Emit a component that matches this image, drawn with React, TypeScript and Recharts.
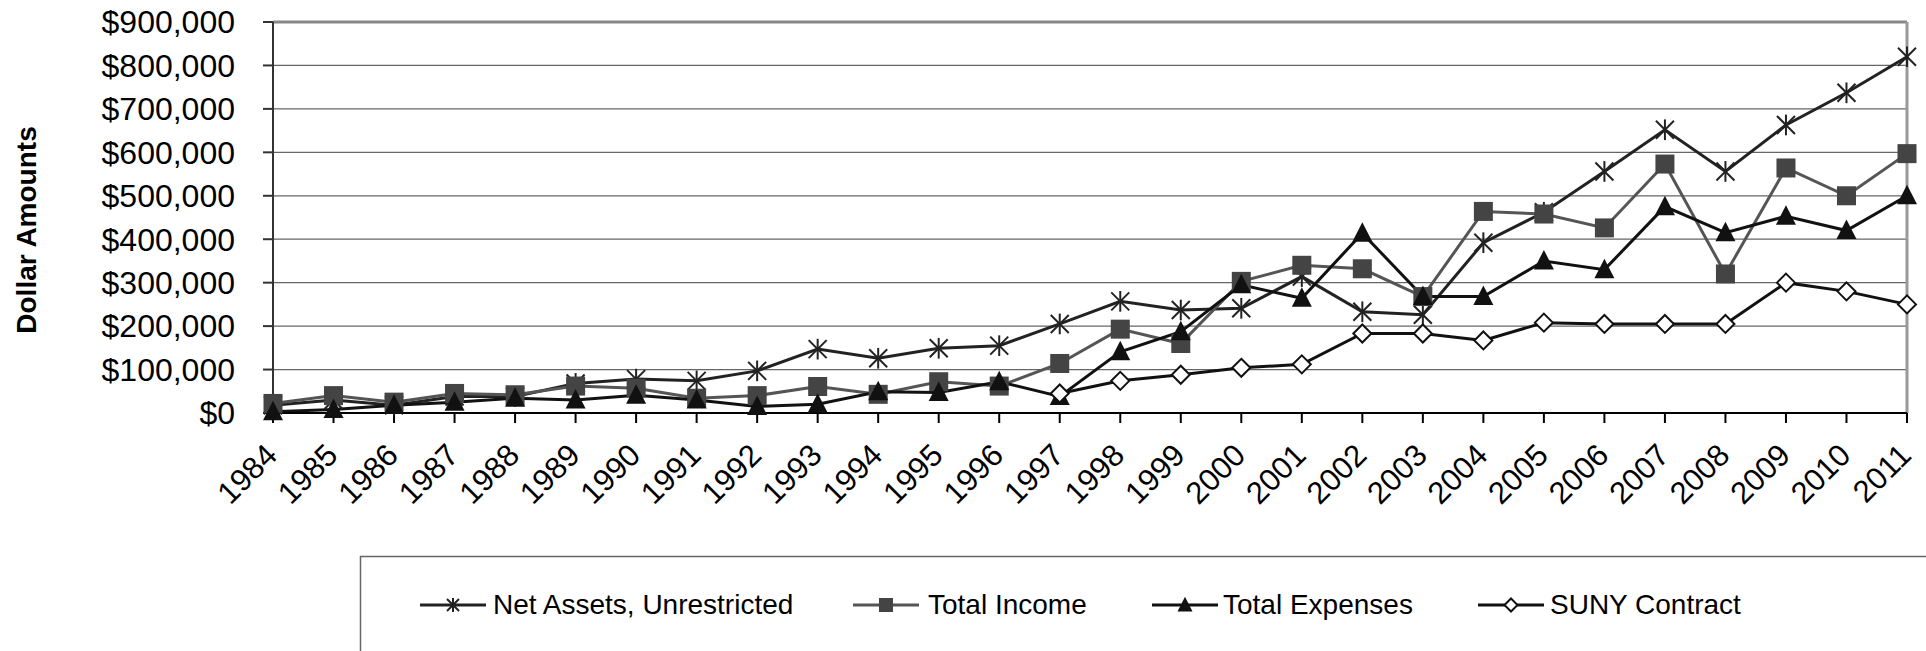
import React from 'react';
import { LineChart, Line, XAxis, YAxis, CartesianGrid, ReferenceLine } from 'recharts';

const years = ['1984','1985','1986','1987','1988','1989','1990','1991','1992','1993','1994','1995','1996','1997','1998','1999','2000','2001','2002','2003','2004','2005','2006','2007','2008','2009','2010','2011'];

const netAssets = [18000, 30000, 18000, 38000, 38000, 68000, 78000, 74000, 97000, 147000, 126000, 149000, 155000, 205000, 257000, 237000, 241000, 314000, 233000, 226000, 392000, 462000, 556000, 652000, 556000, 663000, 737000, 820000];

const totalIncome = [22000, 40000, 25000, 45000, 42000, 62000, 57000, 34000, 40000, 61000, 43000, 72000, 62000, 114000, 193000, 160000, 303000, 340000, 332000, 268000, 464000, 458000, 426000, 573000, 320000, 564000, 500000, 597000];

const totalExpenses = [3000, 8000, 18000, 25000, 34000, 30000, 41000, 30000, 15000, 20000, 49000, 47000, 72000, 38000, 141000, 187000, 295000, 264000, 414000, 268000, 268000, 350000, 330000, 475000, 415000, 453000, 420000, 500000];

const sunyContract: (number | null)[] = [null, null, null, null, null, null, null, null, null, null, null, null, null, 45000, 74000, 88000, 104000, 112000, 183000, 183000, 167000, 208000, 205000, 205000, 205000, 300000, 280000, 250000];

const yTicks = [0, 100000, 200000, 300000, 400000, 500000, 600000, 700000, 800000, 900000];

const seriesNames = ['Net Assets, Unrestricted', 'Total Income', 'Total Expenses', 'SUNY Contract'];

const data = years.map((y, i) => ({
  year: y,
  net: netAssets[i],
  income: totalIncome[i],
  expenses: totalExpenses[i],
  suny: sunyContract[i],
}));

const FONT = 'Liberation Sans, Arial, sans-serif';

const fmt = (v: number) => '$' + v.toLocaleString('en-US');

const Asterisk = ({ cx, cy, s = 9, color = '#222', w = 2 }: any) => (
  <g stroke={color} strokeWidth={w}>
    <line x1={cx - s} y1={cy - s} x2={cx + s} y2={cy + s} />
    <line x1={cx - s} y1={cy + s} x2={cx + s} y2={cy - s} />
    <line x1={cx} y1={cy - s * 1.15} x2={cx} y2={cy + s * 1.15} />
  </g>
);
const Square = ({ cx, cy, s = 9.5, color = '#444' }: any) => (
  <rect x={cx - s} y={cy - s} width={2 * s} height={2 * s} fill={color} />
);
const Triangle = ({ cx, cy, s = 10, color = '#111' }: any) => (
  <polygon points={`${cx},${cy - s * 1.1} ${cx - s},${cy + s * 0.85} ${cx + s},${cy + s * 0.85}`} fill={color} />
);
const Diamond = ({ cx, cy, s = 9, color = '#111', w = 2 }: any) => (
  <polygon points={`${cx},${cy - s} ${cx + s},${cy} ${cx},${cy + s} ${cx - s},${cy}`} fill="#fff" stroke={color} strokeWidth={w} />
);

const mkDot = (Shape: any, key: string) => (props: any) => {
  const { cx, cy, value, index } = props;
  if (value == null || cx == null || cy == null) return <g key={`${key}-${index}`} />;
  return <g key={`${key}-${index}`}><Shape cx={cx} cy={cy} /></g>;
};

const XTick = (props: any) => {
  const { x, y, payload } = props;
  return (
    <g transform={`translate(${x + 6},${y + 32})`}>
      <text transform="rotate(-45)" textAnchor="end" fontSize={31} fontFamily={FONT} fill="#000">
        {payload.value}
      </text>
    </g>
  );
};

const YLabel = () => (
  <text x={26} y={230} transform="rotate(-90 26 230)" textAnchor="middle" dominantBaseline="central"
    fontSize={28} fontWeight="bold" fontFamily={FONT} fill="#000">Dollar Amounts</text>
);

const legendItems = [
  { name: seriesNames[0], lx: 420, tx: 493, color: '#222', Shape: (p: any) => <Asterisk {...p} s={6} /> },
  { name: seriesNames[1], lx: 853, tx: 928, color: '#555', Shape: (p: any) => <Square {...p} s={7} /> },
  { name: seriesNames[2], lx: 1152, tx: 1223, color: '#111', Shape: (p: any) => <Triangle {...p} s={7.5} /> },
  { name: seriesNames[3], lx: 1478, tx: 1550, color: '#111', Shape: (p: any) => <Diamond {...p} s={6.5} /> },
];

export default function App() {
  return (
    <div style={{ position: 'absolute', left: 0, top: 0, width: 1926, height: 651, background: '#fff', overflow: 'hidden' }}>
      <LineChart width={1926} height={651} data={data} margin={{ top: 22, right: 19, left: 0, bottom: 0 }}>
        <CartesianGrid vertical={false} stroke="#666" strokeWidth={1.2} />
        <XAxis dataKey="year" height={238} interval={0} tickSize={10} tick={<XTick />} stroke="#000" strokeWidth={2} />
        <YAxis width={273} domain={[0, 900000]} ticks={yTicks} tickFormatter={fmt} tickSize={10} tickMargin={28}
          stroke="#333" strokeWidth={2} interval={0}
          tick={{ fontSize: 32, fill: '#000', fontFamily: FONT }}
          label={{ content: () => <YLabel /> }} />
        <ReferenceLine y={900000} stroke="#888" strokeWidth={3} />
        <ReferenceLine x="2011" stroke="#999" strokeWidth={3} />
        <Line dataKey="net" name={seriesNames[0]} stroke="#222" strokeWidth={3} isAnimationActive={false} dot={mkDot(Asterisk, 'n')} />
        <Line dataKey="income" name={seriesNames[1]} stroke="#555" strokeWidth={3} isAnimationActive={false} dot={mkDot(Square, 'i')} />
        <Line dataKey="expenses" name={seriesNames[2]} stroke="#111" strokeWidth={3} isAnimationActive={false} dot={mkDot(Triangle, 'e')} />
        <Line dataKey="suny" name={seriesNames[3]} stroke="#111" strokeWidth={3} isAnimationActive={false} dot={mkDot(Diamond, 's')} />
      </LineChart>
      <svg style={{ position: 'absolute', left: 0, top: 0 }} width={1926} height={651}>
        <rect x={360.5} y={556.5} width={1700} height={200} fill="none" stroke="#666" strokeWidth={1.5} />
        {legendItems.map((it) => (
          <g key={it.name}>
            <line x1={it.lx} y1={605} x2={it.lx + 66} y2={605} stroke={it.color} strokeWidth={3} />
            <it.Shape cx={it.lx + 33} cy={605} />
            <text x={it.tx} y={614} fontSize={28} fontFamily={FONT} fill="#000">{it.name}</text>
          </g>
        ))}
      </svg>
    </div>
  );
}
